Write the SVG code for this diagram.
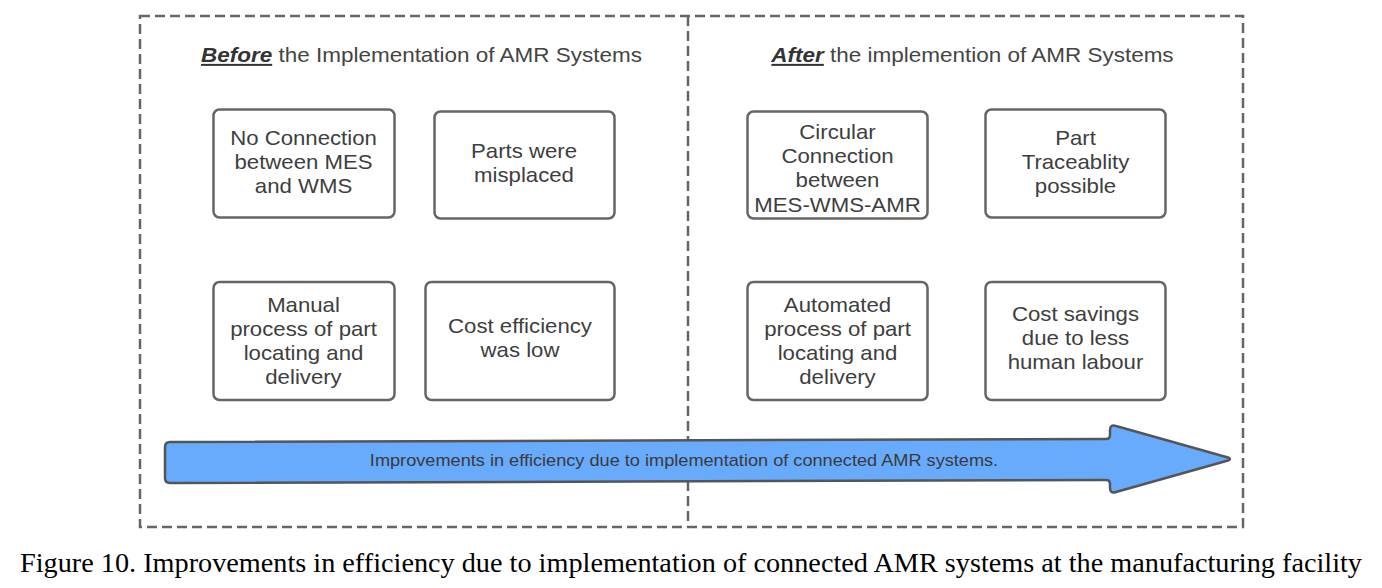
<svg xmlns="http://www.w3.org/2000/svg" width="1382" height="588" viewBox="0 0 1382 588">
<style>
.frame{fill:none;stroke:#666;stroke-width:2.5;stroke-dasharray:10 5}
.box{fill:#fff;stroke:#666;stroke-width:2.5}
.bt{font-family:"Liberation Sans",Arial,sans-serif;font-size:20px;fill:#3e3e3e;text-anchor:middle}
.tt{font-family:"Liberation Sans",Arial,sans-serif;font-size:20px;fill:#444;text-anchor:middle}
.em{font-weight:bold;font-style:italic;text-decoration:underline;fill:#333}
.arrow{fill:#68abfc;stroke:#555;stroke-width:2.5;stroke-linejoin:round}
.at{font-family:"Liberation Sans",Arial,sans-serif;font-size:16px;fill:#3a3a3a;text-anchor:middle}
.cap{font-family:"Liberation Serif","Times New Roman",serif;font-size:27px;fill:#000}
</style>
<rect width="1382" height="588" fill="#fff"/>
<g id="frame">
<rect class="frame" x="140" y="16" width="1103" height="511"/>
<line class="frame" x1="688" y1="16" x2="688" y2="527"/>
</g>
<g id="title-before" transform="translate(421.5 0) scale(1.125 1)">
<text class="tt" x="0" y="62"><tspan class="em">Before</tspan> the Implementation of AMR Systems</text>
</g>
<g id="title-after" transform="translate(972.5 0) scale(1.125 1)">
<text class="tt" x="0" y="62"><tspan class="em">After</tspan> the implemention of AMR Systems</text>
</g>
<g id="n1">
<rect class="box" x="213.5" y="109.5" width="181" height="108" rx="6"/>
<g transform="translate(303.5 0) scale(1.11 1)"><text class="bt" x="0" y="145">No Connection</text><text class="bt" x="0" y="169">between MES</text><text class="bt" x="0" y="193">and WMS</text></g>
</g>
<g id="n2">
<rect class="box" x="434.5" y="111.5" width="180" height="107" rx="6"/>
<g transform="translate(524 0) scale(1.11 1)"><text class="bt" x="0" y="158">Parts were</text><text class="bt" x="0" y="182">misplaced</text></g>
</g>
<g id="n3">
<rect class="box" x="213.5" y="282" width="181" height="118" rx="6"/>
<g transform="translate(303.5 0) scale(1.11 1)"><text class="bt" x="0" y="312">Manual</text><text class="bt" x="0" y="336">process of part</text><text class="bt" x="0" y="360">locating and</text><text class="bt" x="0" y="384">delivery</text></g>
</g>
<g id="n4">
<rect class="box" x="425.5" y="282" width="189" height="118" rx="6"/>
<g transform="translate(520 0) scale(1.11 1)"><text class="bt" x="0" y="333">Cost efficiency</text><text class="bt" x="0" y="357">was low</text></g>
</g>
<g id="n5">
<rect class="box" x="747.5" y="111.5" width="180" height="107" rx="6"/>
<g transform="translate(837.5 0) scale(1.11 1)"><text class="bt" x="0" y="139">Circular</text><text class="bt" x="0" y="163">Connection</text><text class="bt" x="0" y="187">between</text><text class="bt" x="0" y="212">MES-WMS-AMR</text></g>
</g>
<g id="n6">
<rect class="box" x="985.5" y="109.5" width="180" height="108" rx="6"/>
<g transform="translate(1075.5 0) scale(1.11 1)"><text class="bt" x="0" y="145">Part</text><text class="bt" x="0" y="169">Traceablity</text><text class="bt" x="0" y="193">possible</text></g>
</g>
<g id="n7">
<rect class="box" x="747.5" y="282" width="180" height="118" rx="6"/>
<g transform="translate(837.5 0) scale(1.11 1)"><text class="bt" x="0" y="312">Automated</text><text class="bt" x="0" y="336">process of part</text><text class="bt" x="0" y="360">locating and</text><text class="bt" x="0" y="384">delivery</text></g>
</g>
<g id="n8">
<rect class="box" x="985.5" y="282" width="180" height="118" rx="6"/>
<g transform="translate(1075.5 0) scale(1.11 1)"><text class="bt" x="0" y="321">Cost savings</text><text class="bt" x="0" y="345">due to less</text><text class="bt" x="0" y="369">human labour</text></g>
</g>
<g id="connectors">
<path class="arrow" d="M170,442 L1106,439 Q1110,439 1110,435 L1110,430 Q1110,424 1116,426 L1228,457.5 Q1232,459 1228,460.5 L1116,492 Q1110,494 1110,488 L1110,484 Q1110,480 1106,480 L170,483 Q165,483 165,478 L165,447 Q165,442 170,442 Z"/>
<g transform="translate(684 0) scale(1.135 1)"><text class="at" x="0" y="466">Improvements in efficiency due to implementation of connected AMR systems.</text></g>
</g>
<text id="caption" class="cap" x="20" y="572" textLength="1342" lengthAdjust="spacingAndGlyphs">Figure 10. Improvements in efficiency due to implementation of connected AMR systems at the manufacturing facility</text>
</svg>
